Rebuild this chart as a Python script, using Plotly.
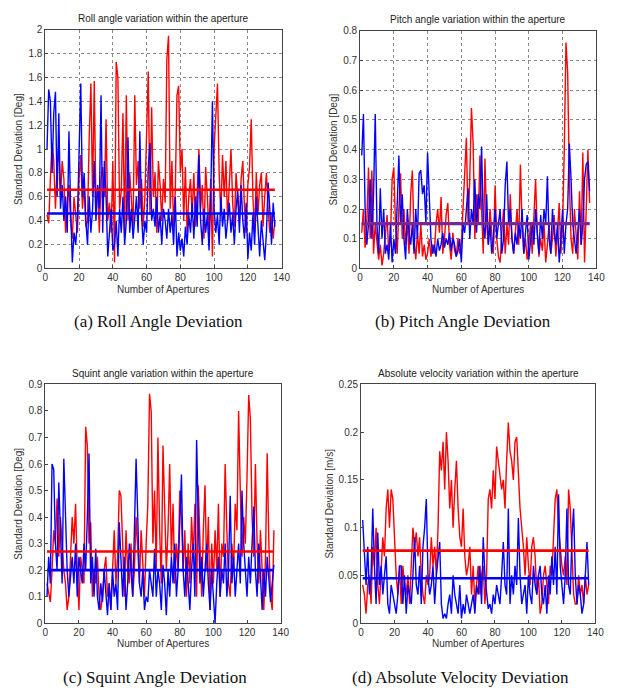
import plotly.graph_objects as go

# ---------------- data ----------------
apertures = list(range(1, 137))
x_ticks = [0, 20, 40, 60, 80, 100, 120, 140]

roll_red = [0.45, 0.38, 0.75, 1.05, 0.9, 0.5, 0.85, 1.0, 0.6, 0.9,
            0.75, 0.3, 0.55, 0.7, 0.4, 0.25, 0.6, 0.45, 0.3, 0.75,
            0.95, 0.5, 0.7, 0.35, 0.4, 1.1, 1.55, 0.6, 1.57, 0.5,
            0.68, 0.3, 0.75, 0.85, 0.6, 1.25, 0.4, 0.55, 0.3, 0.9,
            0.05, 1.73, 1.6, 0.5, 0.65, 1.3, 0.3, 1.45, 0.4, 0.8,
            0.6, 0.35, 1.45, 0.7, 0.9, 0.5, 0.75, 0.35, 0.6, 1.1,
            1.65, 0.45, 1.35, 0.6, 0.8, 0.3, 0.9, 0.7, 0.4, 0.75,
            0.55, 1.75, 1.95, 0.5, 0.9, 0.35, 0.65, 1.45, 1.53, 0.8,
            1.0, 0.4, 0.85, 0.3, 0.6, 0.75, 0.45, 0.8, 0.35, 0.65,
            1.0, 0.5, 0.7, 0.25, 0.85, 0.6, 0.3, 0.75, 0.1, 1.0,
            1.35, 1.55, 0.8, 0.45, 0.95, 0.6, 0.9, 0.4, 0.7, 1.0,
            0.55, 0.35, 0.8, 0.6, 0.4, 0.75, 0.9, 0.5, 0.3, 0.7,
            0.85, 1.25, 0.6, 0.3, 0.8, 0.45, 0.7, 0.8, 0.35, 0.6,
            0.8, 0.5, 0.3, 0.45, 0.25, 0.4]
roll_blue = [1.0, 1.5, 1.4, 0.8, 1.3, 1.48, 0.6, 1.3, 0.5, 0.7,
             0.4, 0.6, 0.3, 1.15, 0.5, 0.05, 0.3, 0.2, 0.4, 0.9,
             1.55, 0.6, 0.8, 0.4, 0.2, 0.6, 0.3, 0.5, 0.9, 0.4,
             0.7, 0.5, 1.45, 0.3, 0.9, 0.6, 0.1, 0.3, 0.5, 0.15,
             0.2, 0.4, 0.1, 0.5, 0.3, 0.6, 0.2, 0.4, 1.1, 0.3,
             0.5, 0.25, 0.4, 0.6, 0.3, 1.15, 0.45, 0.2, 0.4, 0.3,
             0.85, 1.05, 0.4, 0.5, 0.35, 0.6, 0.3, 0.45, 0.2, 0.5,
             0.4, 0.25, 0.5, 0.3, 0.45, 0.2, 0.6, 0.1, 0.3, 0.15,
             0.25, 0.1, 0.35, 0.2, 0.45, 0.3, 0.55, 0.25, 0.6, 0.35,
             0.95, 0.4, 0.2, 0.5, 0.3, 0.45, 0.15, 0.6, 1.4, 0.5,
             0.3, 0.45, 0.2, 0.6, 0.35, 0.5, 0.25, 0.4, 0.55, 0.3,
             0.45, 0.2, 0.5, 0.65, 0.3, 0.7, 0.4, 0.25, 0.55, 0.08,
             0.3, 0.15, 0.45, 0.2, 0.6, 0.35, 0.1, 0.4, 0.25, 0.07,
             0.3, 0.72, 0.5, 0.2, 0.55, 0.35]
roll_mean_red = 0.66
roll_mean_blue = 0.46

pitch_red = [0.12, 0.2, 0.07, 0.15, 0.34, 0.1, 0.33, 0.05, 0.15, 0.1,
             0.03, 0.08, 0.01, 0.05, 0.12, 0.18, 0.05, 0.1, 0.3, 0.34,
             0.15, 0.05, 0.2, 0.32, 0.1, 0.2, 0.08, 0.15, 0.05, 0.25,
             0.33, 0.1, 0.03, 0.12, 0.05, 0.15, 0.04, 0.08, 0.03, 0.05,
             0.1, 0.04, 0.08, 0.05, 0.15, 0.2, 0.12, 0.24, 0.05, 0.1,
             0.18, 0.22, 0.08, 0.03, 0.12, 0.06, 0.04, 0.1, 0.05, 0.08,
             0.2, 0.3, 0.44, 0.15, 0.3, 0.54, 0.42, 0.1, 0.25, 0.15,
             0.38, 0.2, 0.05, 0.37, 0.15, 0.08, 0.2, 0.12, 0.05, 0.28,
             0.1, 0.04, 0.02, 0.12, 0.2, 0.05, 0.15, 0.08, 0.25, 0.1,
             0.05, 0.12, 0.2, 0.08, 0.35, 0.15, 0.05, 0.1, 0.03, 0.08,
             0.15, 0.05, 0.2, 0.3, 0.12, 0.04, 0.1, 0.06, 0.15, 0.02,
             0.08, 0.15, 0.05, 0.1, 0.18, 0.04, 0.12, 0.22, 0.05, 0.15,
             0.4, 0.76, 0.66, 0.3, 0.1, 0.05, 0.2, 0.12, 0.03, 0.26,
             0.08, 0.39, 0.02, 0.2, 0.4, 0.22]
pitch_blue = [0.38, 0.52, 0.2, 0.08, 0.15, 0.3, 0.1, 0.25, 0.52, 0.15,
              0.05, 0.27, 0.1, 0.2, 0.05, 0.08, 0.03, 0.15, 0.02, 0.1,
              0.05, 0.2, 0.38, 0.15, 0.25, 0.1, 0.03, 0.2, 0.12, 0.08,
              0.15, 0.05, 0.2, 0.1, 0.32, 0.33, 0.25, 0.28, 0.15, 0.39,
              0.25, 0.1, 0.05, 0.08, 0.04, 0.1, 0.06, 0.08, 0.12, 0.07,
              0.1, 0.08, 0.12, 0.06, 0.1, 0.08, 0.04, 0.06, 0.1, 0.02,
              0.15, 0.12, 0.2, 0.27, 0.1, 0.2, 0.15, 0.3, 0.12, 0.25,
              0.2, 0.41, 0.15, 0.1, 0.25, 0.08, 0.15, 0.05, 0.1, 0.2,
              0.1, 0.15, 0.2, 0.05, 0.1, 0.28, 0.36, 0.15, 0.2, 0.1,
              0.05, 0.12, 0.08, 0.15, 0.1, 0.2, 0.05, 0.12, 0.18, 0.03,
              0.1, 0.15, 0.08, 0.2, 0.12, 0.05, 0.18, 0.1, 0.2, 0.15,
              0.31, 0.1, 0.05, 0.2, 0.12, 0.08, 0.15, 0.02, 0.1, 0.2,
              0.05, 0.15, 0.2, 0.42, 0.3, 0.15, 0.1, 0.05, 0.12, 0.2,
              0.08, 0.15, 0.3, 0.35, 0.36, 0.26]
pitch_mean_red = 0.152
pitch_mean_blue = 0.15

squint_red = [0.15, 0.12, 0.08, 0.2, 0.35, 0.3, 0.47, 0.25, 0.4, 0.3,
              0.2, 0.15, 0.05, 0.1, 0.25, 0.4, 0.3, 0.45, 0.2, 0.05,
              0.25, 0.2, 0.15, 0.74, 0.67, 0.3, 0.38, 0.1, 0.2, 0.15,
              0.25, 0.1, 0.05, 0.1, 0.2, 0.25, 0.1, 0.15, 0.05, 0.2,
              0.35, 0.15, 0.25, 0.5, 0.48, 0.3, 0.1, 0.35, 0.2, 0.15,
              0.3, 0.1, 0.2, 0.4, 0.25, 0.15, 0.35, 0.2, 0.1, 0.3,
              0.45, 0.865, 0.8, 0.3, 0.5, 0.2, 0.7, 0.35, 0.15, 0.67,
              0.4, 0.2, 0.35, 0.6, 0.25, 0.45, 0.15, 0.3, 0.2, 0.5,
              0.4, 0.2, 0.35, 0.1, 0.3, 0.15, 0.4, 0.25, 0.45, 0.1,
              0.52, 0.3, 0.1, 0.35, 0.52, 0.2, 0.4, 0.05, 0.3, 0.15,
              0.35, 0.2, 0.45, 0.1, 0.3, 0.25, 0.6, 0.35, 0.15, 0.1,
              0.3, 0.2, 0.45, 0.35, 0.8, 0.5, 0.25, 0.4, 0.3, 0.55,
              0.86, 0.77, 0.4, 0.25, 0.6, 0.3, 0.15, 0.35, 0.2, 0.05,
              0.25, 0.64, 0.3, 0.1, 0.05, 0.35]
squint_blue = [0.1, 0.25, 0.15, 0.6, 0.58, 0.3, 0.2, 0.53, 0.35, 0.15,
               0.62, 0.4, 0.2, 0.1, 0.18, 0.25, 0.15, 0.3, 0.1, 0.25,
               0.2, 0.15, 0.3, 0.2, 0.4, 0.64, 0.15, 0.25, 0.1, 0.28,
               0.1, 0.05, 0.15, 0.08, 0.2, 0.1, 0.03, 0.15, 0.05, 0.2,
               0.1, 0.15, 0.05, 0.38, 0.2, 0.1, 0.25, 0.05, 0.15, 0.3,
               0.2, 0.1, 0.35, 0.62, 0.4, 0.15, 0.1, 0.2, 0.05, 0.1,
               0.08, 0.2, 0.15, 0.1, 0.28, 0.1, 0.2, 0.15, 0.05, 0.22,
               0.15, 0.03, 0.2, 0.1, 0.25, 0.15, 0.3, 0.1, 0.2, 0.35,
               0.56, 0.2, 0.1, 0.25, 0.15, 0.05, 0.2, 0.3, 0.1, 0.69,
               0.4, 0.15, 0.25, 0.1, 0.2, 0.3, 0.15, 0.05, 0.2, 0.1,
               0.0, 0.15, 0.25, 0.1, 0.2, 0.15, 0.3, 0.1, 0.2, 0.48,
               0.15, 0.25, 0.1, 0.2, 0.3, 0.15, 0.5, 0.3, 0.2, 0.1,
               0.25, 0.15, 0.3, 0.44, 0.2, 0.1, 0.3, 0.15, 0.05, 0.2,
               0.1, 0.25, 0.15, 0.08, 0.15, 0.22]
squint_mean_red = 0.27
squint_mean_blue = 0.20

vel_red = [0.04, 0.03, 0.01, 0.04, 0.05, 0.02, 0.08, 0.06, 0.1, 0.04,
           0.02, 0.05, 0.09, 0.07, 0.12, 0.14, 0.1, 0.14, 0.13, 0.09,
           0.05, 0.03, 0.06, 0.02, 0.06, 0.04, 0.03, 0.05, 0.02, 0.06,
           0.1, 0.08, 0.095, 0.07, 0.09, 0.05, 0.03, 0.02, 0.05, 0.04,
           0.05, 0.09, 0.06, 0.08, 0.05, 0.1, 0.18, 0.16, 0.19, 0.14,
           0.2, 0.17, 0.12, 0.15, 0.1, 0.14, 0.17, 0.12, 0.09, 0.08,
           0.12, 0.07, 0.05, 0.06, 0.08, 0.03, 0.06, 0.02, 0.04, 0.06,
           0.03, 0.05, 0.06, 0.02, 0.05, 0.13, 0.14, 0.12, 0.16, 0.13,
           0.185, 0.17, 0.15, 0.14, 0.15, 0.12, 0.17, 0.21, 0.18, 0.17,
           0.15, 0.19, 0.195, 0.15, 0.12, 0.1, 0.08, 0.05, 0.09, 0.06,
           0.04, 0.08, 0.09, 0.07, 0.03, 0.05, 0.01, 0.02, 0.05, 0.06,
           0.04, 0.02, 0.06, 0.05, 0.09, 0.13, 0.14, 0.1, 0.08, 0.06,
           0.05, 0.07, 0.04, 0.14, 0.12, 0.08, 0.03, 0.02, 0.02, 0.05,
           0.03, 0.04, 0.02, 0.05, 0.03, 0.04]
vel_blue = [0.108, 0.07, 0.04, 0.08, 0.03, 0.05, 0.12, 0.06, 0.02, 0.095,
            0.04, 0.06, 0.03, 0.05, 0.07, 0.02, 0.01, 0.04, 0.03, 0.02,
            0.01, 0.03, 0.06, 0.06, 0.02, 0.05, 0.01, 0.04, 0.03, 0.02,
            0.05, 0.09, 0.04, 0.03, 0.06, 0.02, 0.08, 0.1, 0.13, 0.05,
            0.03, 0.04, 0.06, 0.02, 0.05, 0.07, 0.085, 0.02, 0.005, 0.01,
            0.005, 0.02, 0.03, 0.01, 0.05, 0.03, 0.02, 0.01, 0.04, 0.005,
            0.02, 0.01, 0.03, 0.02, 0.01, 0.02, 0.03, 0.01, 0.04, 0.03,
            0.06, 0.02, 0.09, 0.05, 0.03, 0.015, 0.02, 0.01, 0.03, 0.02,
            0.04, 0.03, 0.02, 0.05, 0.085, 0.04, 0.03, 0.12, 0.02, 0.05,
            0.03, 0.06, 0.04, 0.11, 0.05, 0.02, 0.03, 0.04, 0.01, 0.05,
            0.03, 0.02, 0.06, 0.04, 0.03, 0.05, 0.06, 0.03, 0.02, 0.04,
            0.01, 0.05, 0.03, 0.07, 0.04, 0.08, 0.03, 0.135, 0.06, 0.04,
            0.02, 0.05, 0.12, 0.04, 0.03, 0.09, 0.12, 0.05, 0.02, 0.04,
            0.03, 0.01, 0.02, 0.05, 0.085, 0.04]
vel_mean_red = 0.076
vel_mean_blue = 0.047

panel_titles = ["Roll angle variation within the aperture",
                "Pitch angle variation within the aperture",
                "Squint angle variation within the aperture",
                "Absolute velocity variation within the aperture"]
y_titles = ["Standard Deviation [Deg]", "Standard Deviation [Deg]",
            "Standard Deviation [Deg]", "Standard Deviation [m/s]"]
captions = ["(a) Roll Angle Deviation", "(b) Pitch Angle Deviation",
            "(c) Squint Angle Deviation", "(d) Absolute Velocity Deviation"]
y_ranges = [(0, 2), (0, 0.8), (0, 0.9), (0, 0.25)]
y_dticks = [0.2, 0.1, 0.1, 0.05]
x_title = "Number of Apertures"

# ---------------- figure ----------------
# the page body has an 8px margin, so the figure starts at (8, 8)
OFF = 8
W, H = 623 - OFF, 695 - OFF
fig = go.Figure()

# pixel boxes in screenshot coordinates: (left, right, top, bottom)
boxes = [(43, 284, 24, 267), (364, 605, 25, 267),
         (43, 283, 385, 628), (365, 604, 385, 628)]
show_grid = [True, True, False, False]


def px(v):
    return (v - OFF) / W


def py(v):
    return 1 - (v - OFF) / H


series = [(roll_red, roll_blue, roll_mean_red, roll_mean_blue),
          (pitch_red, pitch_blue, pitch_mean_red, pitch_mean_blue),
          (squint_red, squint_blue, squint_mean_red, squint_mean_blue),
          (vel_red, vel_blue, vel_mean_red, vel_mean_blue)]

RED = "#ff0000"
BLUE = "#0000ff"
tick_font = dict(family="Liberation Sans, Arial, sans-serif", size=10, color="#333333")

for i, (red, blue, mr, mb) in enumerate(series):
    xa = "x" if i == 0 else f"x{i+1}"
    ya = "y" if i == 0 else f"y{i+1}"
    fig.add_trace(go.Scatter(x=apertures, y=red, mode="lines",
                             line=dict(color=RED, width=1.4),
                             xaxis=xa, yaxis=ya, showlegend=False))
    fig.add_trace(go.Scatter(x=apertures, y=blue, mode="lines",
                             line=dict(color=BLUE, width=1.4),
                             xaxis=xa, yaxis=ya, showlegend=False))
    xs = [apertures[0], apertures[-1]]
    mean_red_color = RED if i != 1 else "#b0207a"
    mean_blue_color = BLUE if i != 1 else "#6a2a9a"
    fig.add_trace(go.Scatter(x=xs, y=[mr, mr], mode="lines",
                             line=dict(color=mean_red_color, width=2.6),
                             xaxis=xa, yaxis=ya, showlegend=False))
    fig.add_trace(go.Scatter(x=xs, y=[mb, mb], mode="lines",
                             line=dict(color=mean_blue_color, width=2.6),
                             xaxis=xa, yaxis=ya, showlegend=False))

    l, r, t, b = boxes[i]
    xdom = [px(l), px(r)]
    ydom = [py(b), py(t)]
    lo, hi = y_ranges[i]
    nt = int(round((hi - lo) / y_dticks[i]))
    yvals = [round(lo + k * y_dticks[i], 4) for k in range(nt + 1)]
    ytext = [("%g" % v) for v in yvals]
    xkey = "xaxis" if i == 0 else f"xaxis{i+1}"
    ykey = "yaxis" if i == 0 else f"yaxis{i+1}"
    fig.update_layout(**{
        xkey: dict(domain=xdom, range=[0, 140], tickvals=x_ticks,
                   ticktext=[str(v) for v in x_ticks], anchor=ya,
                   showline=True, linecolor="#444444", linewidth=1, mirror=True,
                   ticks="inside", ticklen=3, tickcolor="#444444",
                   showgrid=show_grid[i], gridcolor="#888888", griddash="dot", gridwidth=1,
                   zeroline=False, tickfont=tick_font),
        ykey: dict(domain=ydom, range=[lo, hi], tickvals=yvals, ticktext=ytext,
                   anchor=xa,
                   showline=True, linecolor="#444444", linewidth=1, mirror=True,
                   ticks="inside", ticklen=3, tickcolor="#444444",
                   showgrid=show_grid[i], gridcolor="#888888", griddash="dot", gridwidth=1,
                   zeroline=False, tickfont=tick_font,
                   title=dict(text=y_titles[i], font=tick_font, standoff=3)),
    })
    # x-axis title
    fig.add_annotation(text=x_title, xref="paper", yref="paper",
                       x=px((l + r) / 2), y=py(b + 21),
                       xanchor="center", yanchor="middle", showarrow=False,
                       font=tick_font)
    # panel title
    fig.add_annotation(text=panel_titles[i], xref="paper", yref="paper",
                       x=px((l + r) / 2), y=py(t - 11),
                       xanchor="center", yanchor="middle",
                       showarrow=False, font=dict(family="Liberation Sans, Arial, sans-serif",
                                                  size=10, color="#222222"))
    # caption
    cap_y = 321 if i < 2 else 683
    cap_x = [158, 469, 155, 466][i]
    fig.add_annotation(text=captions[i], xref="paper", yref="paper",
                       x=px(cap_x), y=py(cap_y), showarrow=False,
                       xanchor="center", yanchor="middle",
                       font=dict(family="Liberation Serif, Times New Roman, serif",
                                 size=17, color="#111111"))

fig.update_layout(width=W, height=H, margin=dict(l=0, r=0, t=0, b=0),
                  plot_bgcolor="white", paper_bgcolor="white")
fig.write_html("out.html")
